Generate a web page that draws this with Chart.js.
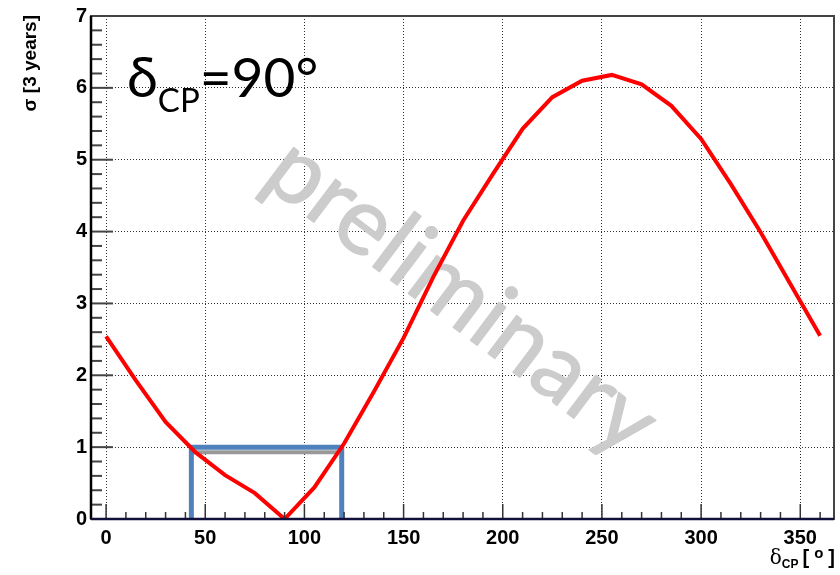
<!DOCTYPE html>
<html>
<head>
<meta charset="utf-8">
<script src="https://cdn.jsdelivr.net/npm/chart.js@4/dist/chart.umd.min.js"></script>
<style>
  html, body { margin: 0; padding: 0; background: #fff; }
  #sigmaChart { display: block; }
</style>
</head>
<body>
<canvas id="sigmaChart" width="840" height="575"></canvas>
<script>
// delta_CP scan (deg) and sensitivity sigma after 3 years
const deltaCP = [0, 15, 30, 45, 60, 75, 90, 105, 120, 135, 150, 165, 180,
  195, 210, 225, 240, 255, 270, 285, 300, 315, 330, 345, 360];
const sigma = [2.54, 1.93, 1.35, 0.93, 0.61, 0.36, 0, 0.44, 1.05, 1.77, 2.52, 3.37, 4.15,
  4.80, 5.43, 5.87, 6.10, 6.18, 6.05, 5.75, 5.29, 4.66, 3.99, 3.27, 2.55];

// 1 sigma interval around the true value
const boxLo = 43;
const boxHi = 118.8;
const boxSigma = 1;
const shadeSigma = 0.93;
const shadeLo = 44;
const shadeHi = 117.2;

const xTicks = [0, 50, 100, 150, 200, 250, 300, 350];
const yTicks = [0, 1, 2, 3, 4, 5, 6, 7];
const xMinorStep = 10;
const yMinorStep = 0.2;
const xMinorMax = 360;

const tickFont = { family: "'Liberation Sans', Arial, sans-serif", size: 20, weight: "bold" };

// tick marks drawn inside the frame, ROOT style
const frameTicks = {
  id: "frameTicks",
  afterDraw(chart) {
    const { ctx, chartArea: a, scales } = chart;
    const sx = scales.x, sy = scales.y;
    ctx.save();
    // y ticks
    ctx.strokeStyle = "#444";
    ctx.lineWidth = 2;
    for (let i = 0; i <= Math.round(7 / yMinorStep); i++) {
      const v = i * yMinorStep;
      const py = sy.getPixelForValue(v);
      const major = Math.abs(v - Math.round(v)) < 1e-6;
      ctx.beginPath();
      ctx.moveTo(a.left, py);
      ctx.lineTo(a.left + (major ? 22 : 11), py);
      ctx.stroke();
    }
    // x ticks
    ctx.strokeStyle = "#333";
    ctx.lineWidth = 1.5;
    for (let v = 0; v <= xMinorMax; v += xMinorStep) {
      const px = sx.getPixelForValue(v);
      const major = v % 50 === 0;
      ctx.beginPath();
      ctx.moveTo(px, a.bottom);
      ctx.lineTo(px, a.bottom - (major ? 15 : 7));
      ctx.stroke();
    }
    // frame
    ctx.strokeStyle = "#444";
    ctx.lineWidth = 2;
    ctx.strokeRect(a.left, a.top, a.right - a.left, a.bottom - a.top);
    ctx.strokeStyle = "#000";
    ctx.lineWidth = 2.5;
    ctx.beginPath();
    ctx.moveTo(a.left, a.top);
    ctx.lineTo(a.left, a.bottom);
    ctx.stroke();
    ctx.strokeStyle = "#10103a";
    ctx.beginPath();
    ctx.moveTo(a.left, a.bottom);
    ctx.lineTo(a.right, a.bottom);
    ctx.stroke();
    ctx.restore();
  },
};

// grey "preliminary" stamp across the plot
const watermark = {
  id: "watermark",
  beforeDatasetsDraw(chart) {
    const { ctx } = chart;
    ctx.save();
    ctx.translate(462, 296);
    ctx.rotate((37 * Math.PI) / 180);
    ctx.fillStyle = "#cccccc";
    ctx.strokeStyle = "#cccccc";
    ctx.lineWidth = 1.3;
    ctx.lineJoin = "round";
    ctx.font = "94px Lato, 'Open Sans', sans-serif";
    ctx.textAlign = "center";
    ctx.textBaseline = "middle";
    ctx.fillText("preliminary", 0, 0);
    ctx.strokeText("preliminary", 0, 0);
    ctx.restore();
  },
};

// titles: axis labels and the delta_CP annotation
const titles = {
  id: "titles",
  afterDraw(chart) {
    const { ctx } = chart;
    ctx.save();
    ctx.fillStyle = "#000";
    ctx.textBaseline = "alphabetic";

    // big annotation
    ctx.textAlign = "left";
    ctx.font = "56px Lato, 'Open Sans', sans-serif";
    ctx.fillText("δ", 127, 97);
    let x = 127 + ctx.measureText("δ").width;
    ctx.font = "33px Lato, 'Open Sans', sans-serif";
    ctx.fillText("CP", x, 112);
    x += ctx.measureText("CP").width;
    ctx.font = "55px Lato, 'Open Sans', sans-serif";
    ctx.fillText("=90°", x, 97);

    // y title
    ctx.save();
    ctx.translate(36, 15);
    ctx.rotate(-Math.PI / 2);
    ctx.textAlign = "right";
    ctx.font = "bold 19px 'Liberation Sans', Arial, sans-serif";
    ctx.fillText("σ [3 years]", 0, 0);
    ctx.restore();

    // x title, right aligned
    const parts = [
      { t: "]", f: "bold 20px 'Liberation Sans', Arial, sans-serif", dy: 0, gap: 5 },
      { t: "o", f: "bold 15px 'Liberation Sans', Arial, sans-serif", dy: -6, gap: 5 },
      { t: "[", f: "bold 20px 'Liberation Sans', Arial, sans-serif", dy: 0, gap: 4 },
      { t: "CP", f: "bold 12px 'Liberation Sans', Arial, sans-serif", dy: 4, gap: 0 },
      { t: "δ", f: "20px 'DejaVu Serif', serif", dy: 0, gap: 0 },
    ];
    ctx.textAlign = "right";
    let rx = 835;
    for (const p of parts) {
      ctx.font = p.f;
      ctx.fillText(p.t, rx, 564 + p.dy);
      rx -= ctx.measureText(p.t).width + p.gap;
    }
    ctx.restore();
  },
};

const gridColor = "rgba(0,0,0,0.8)";

const sigmaCtx = document.getElementById("sigmaChart").getContext("2d");
new Chart(sigmaCtx, {
  type: "line",
  data: {
    datasets: [
      {
        data: deltaCP.map((d, i) => ({ x: d, y: sigma[i] })),
        borderColor: "#ff0000",
        borderWidth: 4,
        pointRadius: 0,
        tension: 0,
        order: 0,
      },
      {
        data: [
          { x: boxLo, y: 0 },
          { x: boxLo, y: boxSigma },
          { x: boxHi, y: boxSigma },
          { x: boxHi, y: 0 },
        ],
        borderColor: "#4f81bd",
        borderWidth: 5,
        borderJoinStyle: "miter",
        pointRadius: 0,
        tension: 0,
        order: 1,
      },
      {
        data: [
          { x: shadeLo, y: shadeSigma },
          { x: shadeHi, y: shadeSigma },
        ],
        borderColor: "#999999",
        borderWidth: 4,
        pointRadius: 0,
        order: 2,
      },
    ],
  },
  options: {
    responsive: false,
    animation: false,
    layout: { padding: { top: 15, right: 6, left: 0, bottom: 0 } },
    plugins: { legend: { display: false }, tooltip: { enabled: false } },
    scales: {
      x: {
        type: "linear",
        min: -7.6,
        max: 367,
        afterBuildTicks: (s) => { s.ticks = xTicks.map((v) => ({ value: v })); },
        afterFit: (s) => { s.height = 56; },
        grid: { color: gridColor, lineWidth: 1, drawTicks: false },
        border: { display: false, dash: [1, 2] },
        ticks: { font: tickFont, color: "#000", padding: 7, maxRotation: 0 },
      },
      y: {
        type: "linear",
        min: 0,
        max: 7,
        afterBuildTicks: (s) => { s.ticks = yTicks.map((v) => ({ value: v })); },
        afterFit: (s) => { s.width = 91; },
        grid: { color: gridColor, lineWidth: 1, drawTicks: false },
        border: { display: false, dash: [1, 2] },
        ticks: { font: tickFont, color: "#000", padding: 4 },
      },
    },
  },
  plugins: [watermark, frameTicks, titles],
});
</script>
</body>
</html>
